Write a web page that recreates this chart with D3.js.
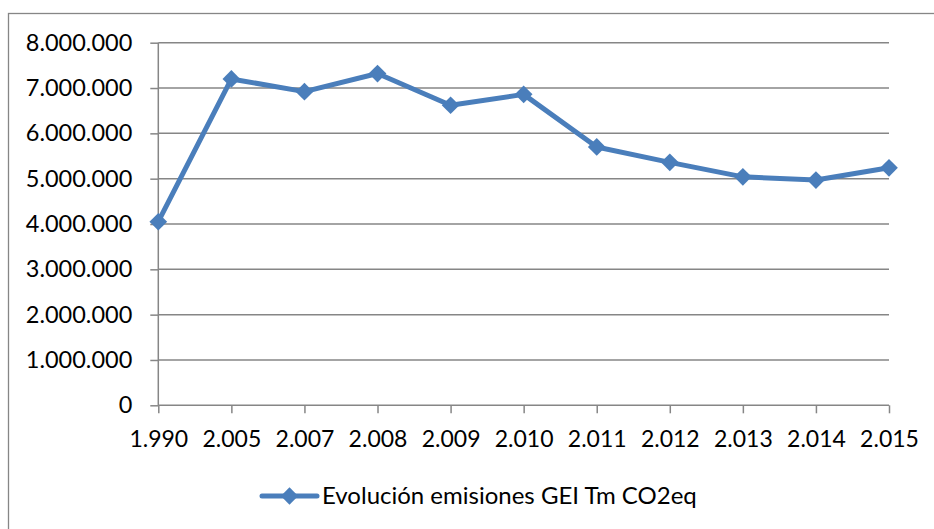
<!DOCTYPE html>
<html>
<head>
<meta charset="utf-8">
<script src="https://cdn.jsdelivr.net/npm/d3@7"></script>
<style>
  body { margin: 0; background: #fff; }
  text { font-family: Lato, "Open Sans", sans-serif; fill: #000; }
</style>
</head>
<body>
<div id="container"></div>
<script>
// Data
const years = ['1.990', '2.005', '2.007', '2.008', '2.009', '2.010', '2.011', '2.012', '2.013', '2.014', '2.015'];
const emissions = [4050000, 7200000, 6920000, 7320000, 6620000, 6860000, 5700000, 5360000, 5040000, 4970000, 5240000];
const yTicks = [0, 1000000, 2000000, 3000000, 4000000, 5000000, 6000000, 7000000, 8000000];
const seriesName = 'Evolución emisiones GEI Tm CO2eq';

const width = 934;
const height = 529;
const margin = { top: 42.7, right: 45, bottom: 123.7, left: 158.3 };

const svg = d3.select('#container').append('svg')
    .attr('width', width)
    .attr('height', height);

// outer chart border
svg.append('rect')
    .attr('x', 8.5).attr('y', 13.5)
    .attr('width', 940).attr('height', 540)
    .attr('fill', 'none')
    .attr('stroke', '#868686')
    .attr('stroke-width', 1.3);

const x = d3.scalePoint()
    .domain(years)
    .range([margin.left, width - margin.right]);

const y = d3.scaleLinear()
    .domain([0, 8000000])
    .range([height - margin.bottom, margin.top]);

const locale = d3.formatLocale({ decimal: ',', thousands: '.', grouping: [3], currency: ['', ''] });
const fmt = locale.format(',d');

// gridlines
svg.append('g')
    .selectAll('line')
    .data(yTicks.slice(1))
    .enter().append('line')
    .attr('x1', margin.left).attr('x2', width - margin.right)
    .attr('y1', d => y(d)).attr('y2', d => y(d))
    .attr('stroke', '#868686')
    .attr('stroke-width', 1.5);

// y axis
const yAxis = svg.append('g')
    .attr('transform', `translate(${margin.left},0)`)
    .call(d3.axisLeft(y).tickValues(yTicks).tickFormat(fmt).tickSize(8).tickPadding(18));
yAxis.selectAll('line, path').attr('stroke', '#868686').attr('stroke-width', 1.5);
yAxis.select('.domain').attr('d', `M0,${y(0)}V${y(8000000)}`);
yAxis.selectAll('text').attr('font-size', 23.5).attr('fill', '#000').attr('font-family', 'Lato');

// x axis
const xAxis = svg.append('g')
    .attr('transform', `translate(0,${y(0)})`)
    .call(d3.axisBottom(x).tickSize(8).tickPadding(17));
xAxis.selectAll('line, path').attr('stroke', '#868686').attr('stroke-width', 1.5);
xAxis.select('.domain').attr('d', `M${margin.left},0H${width - margin.right}`);
xAxis.selectAll('text').attr('font-size', 23).attr('fill', '#000').attr('font-family', 'Lato');

// series line
const color = '#4a7ebb';
const line = d3.line()
    .x((d, i) => x(years[i]))
    .y(d => y(d));

svg.append('path')
    .datum(emissions)
    .attr('d', line)
    .attr('fill', 'none')
    .attr('stroke', color)
    .attr('stroke-width', 5)
    .attr('stroke-linejoin', 'round');

const diamond = d3.symbol().type(d3.symbolDiamond2).size(200);
svg.selectAll('.marker')
    .data(emissions)
    .enter().append('path')
    .attr('class', 'marker')
    .attr('d', diamond)
    .attr('transform', (d, i) => `translate(${x(years[i])},${y(d)})`)
    .attr('fill', color);

// legend
const legend = svg.append('g').attr('transform', 'translate(262,496)');
legend.append('line')
    .attr('x1', 0).attr('x2', 55)
    .attr('stroke', color)
    .attr('stroke-width', 5)
    .attr('stroke-linecap', 'round');
legend.append('path')
    .attr('d', d3.symbol().type(d3.symbolDiamond2).size(190))
    .attr('transform', 'translate(27.5,0)')
    .attr('fill', color);
legend.append('text')
    .attr('x', 60)
    .attr('y', 8)
    .attr('font-size', 24)
    .text(seriesName);
</script>
</body>
</html>
